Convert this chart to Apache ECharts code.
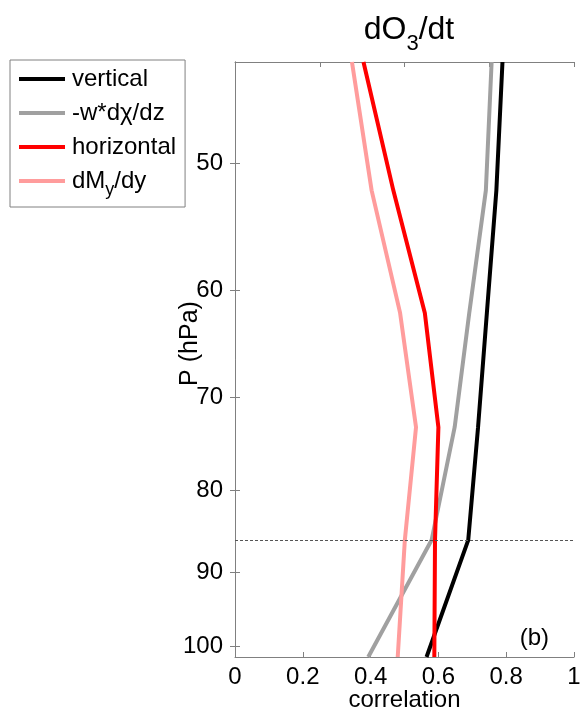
<!DOCTYPE html>
<html><head><meta charset="utf-8">
<script src="https://cdn.jsdelivr.net/npm/echarts@6/dist/echarts.min.js"></script>
<style>html,body{margin:0;padding:0;background:#fff}#c{width:580px;height:713px}</style>
</head><body><div id="c"></div>
<script>
// Pressure levels (hPa) and correlation values
const pressure   = [43.25, 52.0, 62.0, 73.05, 85.9, 101.6];
const vertical   = [0.789, 0.771, 0.743, 0.717, 0.688, 0.565];
const wdchidz    = [0.757, 0.740, 0.691, 0.648, 0.580, 0.393];
const horizontal = [0.379, 0.467, 0.560, 0.600, 0.590, 0.588];
const dMydy      = [0.345, 0.403, 0.487, 0.534, 0.501, 0.480];
const yTicks = [50, 60, 70, 80, 90, 100];
const refLevel = 85.9;
const seriesNames = ['vertical', '-w*dχ/dz', 'horizontal', 'dMy/dy'];

const FONT = 'Liberation Sans, Arial, sans-serif';
const AX = '#808080';
function pairs(vals){ return vals.map((v,i)=>[v, pressure[i]]); }
function mk(name, vals, color, extra){
  return Object.assign({
    name, type:'line', data: pairs(vals), xAxisIndex:0, yAxisIndex:0,
    symbol:'none', showSymbol:false, lineStyle:{color, width:4}, itemStyle:{color},
    animation:false, z:2
  }, extra||{});
}
const yBase = {
  type:'log', inverse:true, min:43.25, max:101.6,
  axisLine:{show:true, lineStyle:{color:AX, width:1}},
  splitLine:{show:false}, minorTick:{show:false}
};
const chart = echarts.init(document.getElementById('c'), null, {renderer:'canvas'});
chart.setOption({
  backgroundColor:'#fff',
  animation:false,
  title:[
    {text:'{a|dO}{s|3}{a|/dt}', left:404, textAlign:'center', top:9,
     textStyle:{rich:{a:{fontSize:32, fontFamily:FONT, fontWeight:'normal', color:'#000', lineHeight:32, verticalAlign:'top'},
                      s:{fontSize:22, fontFamily:FONT, fontWeight:'normal', color:'#000', lineHeight:26, padding:[19,0,0,0], verticalAlign:'top'}}}},
    {text:'(b)', right:26, top:621, textStyle:{fontSize:24, fontFamily:FONT, fontWeight:'normal', color:'#000'}}
  ],
  grid:{left:235, right:6, top:62, bottom:56, containLabel:false, outerBoundsMode:'none'},
  legend:{
    left:10, top:60, orient:'vertical', data:seriesNames,
    padding:[7,9,8,9], itemGap:10, itemWidth:46, itemHeight:4, icon:'rect',
    backgroundColor:'#fff', borderColor:AX, borderWidth:1, borderRadius:0,
    formatter: function(n){
      if(n==='dMy/dy') return '{a|dM}{s|y}{a|/dy}';
      return '{a|'+n+'}';
    },
    textStyle:{fontSize:24, fontFamily:FONT, color:'#000', padding:[0,0,0,2],
      rich:{a:{fontSize:24, fontFamily:FONT, color:'#000', lineHeight:24, verticalAlign:'top'},
            s:{fontSize:18, fontFamily:FONT, color:'#000', lineHeight:20, padding:[12,0,0,0], verticalAlign:'top'}}}
  },
  xAxis:[
    {type:'value', position:'bottom', min:0, max:1, interval:0.2,
     name:'correlation', nameLocation:'middle', nameGap:31, nameMoveOverlap:false,
     nameTextStyle:{fontSize:24, fontFamily:FONT, color:'#000'},
     axisLine:{show:true, onZero:false, lineStyle:{color:AX}},
     axisTick:{show:true, inside:true, length:5, lineStyle:{color:AX}},
     axisLabel:{fontSize:24, fontFamily:FONT, color:'#000', margin:8,
       formatter:v=> (v===0||v===1)? String(v) : v.toFixed(1)},
     splitLine:{show:false}},
    {type:'value', position:'top', min:0, max:1, interval:0.25,
     axisLine:{show:true, onZero:false, lineStyle:{color:AX}},
     axisTick:{show:true, inside:true, length:5, lineStyle:{color:AX}},
     axisLabel:{show:false}, splitLine:{show:false}}
  ],
  yAxis:[
    Object.assign({}, yBase, {position:'left', name:'P (hPa)', nameLocation:'middle', nameGap:32, nameMoveOverlap:false,
      nameTextStyle:{fontSize:25, fontFamily:FONT, color:'#000', padding:[0,0,0,32]},
      axisTick:{show:true, inside:true, length:5, customValues:yTicks, lineStyle:{color:AX}},
      axisLabel:{show:true, customValues:yTicks, fontSize:24, fontFamily:FONT, color:'#000', margin:12}}),
    Object.assign({}, yBase, {position:'right',
      axisTick:{show:true, inside:true, length:5, customValues:yTicks, lineStyle:{color:AX}},
      axisLabel:{show:false, customValues:yTicks}})
  ],
  series:[
    mk(seriesNames[0], vertical, '#000000', {
      markLine:{silent:true, symbol:'none', animation:false,
        lineStyle:{color:'#555', width:1, type:[3,2]}, label:{show:false},
        data:[{yAxis:refLevel}]}}),
    mk(seriesNames[1], wdchidz, '#a0a0a0'),
    mk(seriesNames[2], horizontal, '#ff0000'),
    mk(seriesNames[3], dMydy, '#ff9c9c')
  ]
});
</script></body></html>
